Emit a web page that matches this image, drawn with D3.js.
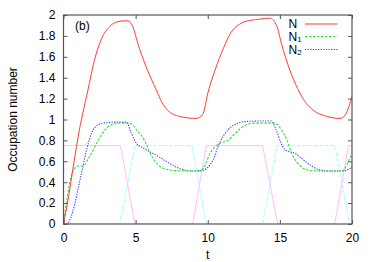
<!DOCTYPE html>
<html>
<head>
<meta charset="utf-8">
<script src="https://cdn.jsdelivr.net/npm/d3@7"></script>
<style>
  body { margin: 0; background: #fff; }
  text { font-family: "Liberation Sans", Arial, sans-serif; font-size: 12px; fill: #000; }
</style>
</head>
<body>
<div class="container"></div>
<script>
// N = total occupation, N1, N2 = the two levels, plus the two drive pulses
const tN = [0, 0.3, 0.6, 0.9, 1.1, 1.4, 1.69, 2.15, 2.6, 3.2, 3.9, 4.45, 4.8, 5.15, 5.74, 6.44, 6.8, 7.2, 8.05, 9.2, 9.68, 10.0, 10.5, 11.05, 11.6, 12.3, 13.0, 13.6, 14.3, 14.8, 15.1, 15.7, 16.4, 16.8, 17.3, 18.25, 19.2, 19.6, 20];
const vN = [0, 0.22, 0.48, 0.74, 0.9, 1.1, 1.28, 1.57, 1.76, 1.89, 1.94, 1.945, 1.89, 1.73, 1.5, 1.28, 1.17, 1.09, 1.03, 1.01, 1.06, 1.25, 1.47, 1.67, 1.83, 1.92, 1.95, 1.96, 1.97, 1.89, 1.73, 1.47, 1.25, 1.16, 1.09, 1.03, 1.01, 1.06, 1.22];

const tN1 = [0, 0.2, 0.4, 0.6, 0.8, 1.0, 1.3, 1.5, 1.7, 1.95, 2.4, 3.0, 3.57, 4.0, 4.5, 4.8, 5.07, 5.4, 5.65, 6.0, 6.35, 6.7, 7.1, 7.5, 8.0, 9.0, 9.5, 9.8, 10.14, 10.5, 10.8, 11.1, 11.4, 11.7, 12.0, 12.3, 12.7, 13.3, 14.0, 14.6, 14.85, 15.1, 15.5, 15.8, 16.25, 16.85, 17.3, 18.5, 19.3, 19.5, 19.75, 20];
const vN1 = [0, 0.2, 0.37, 0.49, 0.54, 0.555, 0.555, 0.57, 0.62, 0.68, 0.8, 0.92, 0.96, 0.965, 0.965, 0.95, 0.9, 0.85, 0.79, 0.68, 0.6, 0.55, 0.525, 0.515, 0.51, 0.507, 0.51, 0.56, 0.67, 0.74, 0.77, 0.785, 0.8, 0.84, 0.88, 0.92, 0.95, 0.965, 0.965, 0.965, 0.95, 0.9, 0.8, 0.68, 0.58, 0.52, 0.51, 0.507, 0.507, 0.53, 0.6, 0.67];

const tN2 = [0, 0.3, 0.5, 0.8, 1.0, 1.3, 1.6, 1.95, 2.4, 3.0, 3.6, 4.35, 4.7, 5.07, 5.35, 5.6, 6.0, 6.65, 7.35, 7.8, 8.3, 9.0, 9.5, 9.9, 10.35, 10.8, 11.4, 12.0, 12.6, 13.5, 14.4, 14.74, 15.1, 15.35, 15.7, 16.0, 16.4, 17.1, 17.8, 18.5, 19.3, 19.6, 19.85, 20];
const vN2 = [0, 0.01, 0.06, 0.2, 0.33, 0.52, 0.71, 0.87, 0.95, 0.97, 0.975, 0.975, 0.87, 0.77, 0.74, 0.72, 0.69, 0.64, 0.58, 0.545, 0.52, 0.507, 0.51, 0.53, 0.61, 0.77, 0.9, 0.96, 0.98, 0.985, 0.985, 0.9, 0.77, 0.71, 0.69, 0.68, 0.64, 0.565, 0.517, 0.507, 0.507, 0.515, 0.53, 0.55];

const tPulse1 = [0, 3.95, 4.95, 8.95, 9.9, 13.8, 14.85, 18.8, 19.75, 20];
const vPulse1 = [0.75, 0.75, 0, 0, 0.75, 0.75, 0, 0, 0.75, 0.75];
const tPulse2 = [0, 3.9, 4.95, 8.9, 9.9, 13.8, 14.8, 18.8, 19.85, 20];
const vPulse2 = [0, 0, 0.75, 0.75, 0, 0, 0.75, 0.75, 0, 0];

const xTicks = [0, 5, 10, 15, 20];
const yTicks = [0, 0.2, 0.4, 0.6, 0.8, 1, 1.2, 1.4, 1.6, 1.8, 2];
const yTickLabels = ["0", "0.2", "0.4", "0.6", "0.8", "1", "1.2", "1.4", "1.6", "1.8", "2"];

const width = 374, height = 262;
const mLeft = 63.5, mRight = 352, mTop = 15, mBottom = 224;

const svg = d3.select('.container')
    .append('svg')
    .attr('width', width)
    .attr('height', height);

const x = d3.scaleLinear().domain([0, 20]).range([mLeft, mRight]);
const y = d3.scaleLinear().domain([0, 2]).range([mBottom, mTop]);

let zip = (ts, vs) => ts.map((t, i) => [t, vs[i]]);

let series = [
    {data: zip(tPulse1, vPulse1), color: '#ffbcff', dash: null, w: 1, curve: d3.curveLinear},
    {data: zip(tPulse2, vPulse2), color: '#9cffff', dash: '4,1.5', w: 1, curve: d3.curveLinear},
    {data: zip(tN2, vN2), color: '#4040ff', dash: '1.3,1.3', w: 1.1, curve: d3.curveMonotoneX},
    {data: zip(tN1, vN1), color: '#30e030', dash: '2.5,1.5', w: 1.1, curve: d3.curveMonotoneX},
    {data: zip(tN, vN), color: '#ff3b3b', dash: null, w: 1, curve: d3.curveMonotoneX}
];

svg.append('clipPath').attr('id', 'plot')
    .append('rect')
    .attr('x', mLeft).attr('y', mTop)
    .attr('width', mRight - mLeft).attr('height', mBottom - mTop);

series.forEach(s => {
    let line = d3.line().x(d => x(d[0])).y(d => y(d[1])).curve(s.curve);
    svg.append('path')
        .datum(s.data)
        .attr('clip-path', 'url(#plot)')
        .attr('fill', 'none')
        .attr('stroke', s.color)
        .attr('stroke-width', s.w)
        .attr('stroke-dasharray', s.dash)
        .attr('d', line);
});

// axes, gnuplot style: ticks inside and mirrored
let styleAxis = g => {
    g.select('.domain').remove();
    g.selectAll('line').attr('stroke', '#555');
    g.selectAll('text').attr('font-size', 12).attr('font-family', '"Liberation Sans", Arial, sans-serif');
};

svg.append('g').attr('transform', `translate(0,${mBottom})`)
    .call(d3.axisBottom(x).tickValues(xTicks).tickSizeInner(-4).tickSizeOuter(0).tickPadding(9))
    .call(styleAxis);
svg.append('g').attr('transform', `translate(0,${mTop})`)
    .call(d3.axisTop(x).tickValues(xTicks).tickSizeInner(-4).tickSizeOuter(0).tickFormat(''))
    .call(styleAxis);
svg.append('g').attr('transform', `translate(${mLeft},0)`)
    .call(d3.axisLeft(y).tickValues(yTicks).tickSizeInner(-4).tickSizeOuter(0).tickPadding(8)
        .tickFormat((d, i) => yTickLabels[i]))
    .call(styleAxis);
svg.append('g').attr('transform', `translate(${mRight},0)`)
    .call(d3.axisRight(y).tickValues(yTicks).tickSizeInner(-4).tickSizeOuter(0).tickFormat(''))
    .call(styleAxis);

svg.append('rect')
    .attr('x', mLeft).attr('y', mTop)
    .attr('width', mRight - mLeft).attr('height', mBottom - mTop)
    .attr('fill', 'none')
    .attr('stroke', '#555')
    .attr('stroke-width', 1.2);

// labels
svg.append('text').attr('x', (mLeft + mRight) / 2).attr('y', 259)
    .attr('text-anchor', 'middle').text('t');
svg.append('text')
    .attr('transform', `translate(17,${(mTop + mBottom) / 2}) rotate(-90)`)
    .attr('text-anchor', 'middle').text('Occupation number');
svg.append('text').attr('x', 75).attr('y', 29.5).text('(b)');

// key
let keys = [
    {name: 'N', sub: '', s: series[4], y: 24},
    {name: 'N', sub: '1', s: series[3], y: 36.5},
    {name: 'N', sub: '2', s: series[2], y: 49.5}
];
keys.forEach(k => {
    let t = svg.append('text').attr('x', 288.5).attr('y', k.y + 4).attr('font-size', 11.5);
    t.append('tspan').text(k.name);
    if (k.sub) t.append('tspan').attr('dy', 1).attr('font-size', 8).text(k.sub);
    svg.append('line')
        .attr('x1', 305).attr('x2', 337.5)
        .attr('y1', k.y).attr('y2', k.y)
        .attr('stroke', k.s.color)
        .attr('stroke-width', k.s.w)
        .attr('stroke-dasharray', k.s.dash);
});
</script>
</body>
</html>
